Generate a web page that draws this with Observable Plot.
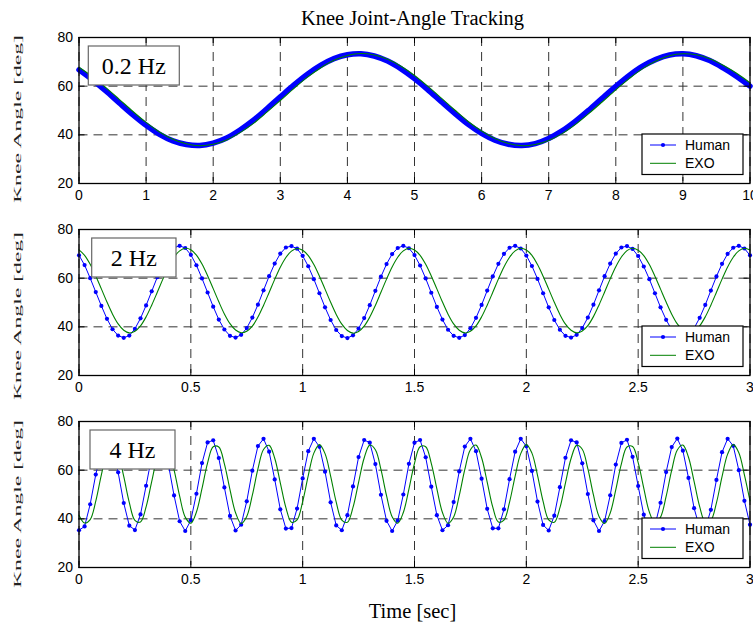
<!DOCTYPE html>
<html><head><meta charset="utf-8">
<script src="https://cdn.jsdelivr.net/npm/d3@7"></script>
<script src="https://cdn.jsdelivr.net/npm/@observablehq/plot@0.6"></script>
<style>
body{margin:0;background:#fff;}
#chart{position:relative;width:753px;height:627px;overflow:hidden;background:#fff;}
.panel{position:absolute;left:0;}
</style></head><body>
<div id="chart"></div>
<script>
// ---------- data ----------
const titleText = "Knee Joint-Angle Tracking";
const xLabelText = "Time [sec]";
const yLabelText = "Knee Angle [deg]";
const seriesNames = ["Human", "EXO"];
const panelLabels = ["0.2 Hz", "2 Hz", "4 Hz"];
const yTicks = [20, 40, 60, 80];
const xTicksA = [0,1,2,3,4,5,6,7,8,9,10];
const xTicksBC = [0,0.5,1,1.5,2,2.5,3];

// panel A: 0.2 Hz, sampled every 0.2 s, 0..10 s
const stepA = 0.2;
const humanA = [66.7,62.6,58.0,53.1,48.3,43.9,40.2,37.5,36.0,35.6,36.6,38.7,42.0,46.0,50.7,55.6,60.4,64.8,68.5,71.3,72.9,73.3,72.4,70.3,67.1,63.1,58.5,53.6,48.8,44.3,40.6,37.8,36.1,35.6,36.4,38.5,41.6,45.6,50.2,55.1,59.9,64.4,68.2,71.0,72.8,73.3,72.5,70.5,67.5,64.0,60.0];
const exoA = [67.8,63.9,59.4,54.6,49.7,45.1,41.2,38.2,36.3,35.5,36.1,37.9,40.9,44.7,49.3,54.1,59.0,63.6,67.5,70.6,72.6,73.4,72.8,71.1,68.2,64.4,59.9,55.1,50.2,45.5,41.6,38.5,36.4,35.5,36.0,37.7,40.5,44.3,48.8,53.6,58.5,63.1,67.2,70.3,72.5,73.3,72.9,71.3,68.6,65.3,61.4];

// panel B: 2 Hz, sampled every 0.025 s, 0..3 s
const stepB = 0.025;
const humanB = [69.4,65.4,60.0,54.3,48.6,43.3,39.0,36.4,35.5,36.4,39.2,43.5,48.8,54.6,60.4,65.7,69.9,72.5,73.3,72.4,
69.6,65.3,59.9,54.1,48.3,43.0,38.9,36.3,35.6,36.7,39.5,43.8,49.1,55.0,60.8,66.0,70.1,72.6,73.2,72.1,
69.2,64.9,59.6,53.8,48.0,42.8,38.7,36.2,35.4,36.5,39.3,43.6,48.9,54.8,60.6,65.8,69.9,72.4,73.3,72.3,
69.5,65.2,59.9,54.0,48.2,43.0,38.8,36.3,35.5,36.6,39.4,43.7,49.0,54.9,60.7,65.9,70.0,72.5,73.3,72.2,
69.3,65.0,59.7,53.8,48.0,42.8,38.8,36.3,35.6,36.7,39.5,43.8,49.1,55.0,60.8,66.0,70.1,72.6,73.2,72.0,
69.1,64.8,59.6,53.8,48.0,42.9,38.8,36.3,35.5,36.6,39.4,43.7,49.0,54.9,60.7,65.9,70.0,72.5,73.3,72.2,
69.4];
const exoB = [71.6,69.4,65.7,60.9,55.6,50.2,45.2,41.2,38.6,37.5,38.2,40.4,44.1,48.9,54.2,59.6,64.6,68.6,71.2,72.3,
71.7,69.5,65.8,61.0,55.7,50.3,45.3,41.3,38.7,37.6,38.2,40.3,44.0,48.8,54.1,59.5,64.5,68.5,71.1,72.2,
71.5,69.3,65.6,60.8,55.5,50.1,45.1,41.1,38.5,37.4,38.1,40.3,44.0,48.8,54.2,59.6,64.6,68.6,71.2,72.3,
71.6,69.4,65.7,60.9,55.6,50.2,45.2,41.2,38.6,37.5,38.2,40.4,44.1,48.9,54.2,59.6,64.6,68.6,71.2,72.3,
71.6,69.4,65.6,60.8,55.5,50.1,45.1,41.1,38.6,37.5,38.3,40.5,44.2,49.0,54.3,59.7,64.7,68.7,71.3,72.3,
71.5,69.3,65.6,60.8,55.5,50.2,45.2,41.2,38.6,37.5,38.2,40.4,44.1,48.9,54.2,59.6,64.6,68.6,71.2,72.3,
71.6];

// panel C: 4 Hz, sampled every 0.025 s, 0..3 s
const stepC = 0.025;
const humanC = [35.3,36.9,46.0,58.2,68.1,73.0,69.5,59.1,46.5,37.2,
35.4,41.8,53.6,65.6,72.5,71.1,62.2,49.6,39.0,35.0,
39.4,50.3,62.9,71.4,72.3,65.0,52.9,41.2,35.2,37.6,
47.2,59.8,69.9,72.9,67.6,56.2,43.9,36.0,36.2,44.2,
56.6,67.8,72.9,69.6,59.4,46.8,37.3,35.3,41.5,53.3,
65.4,72.4,71.3,62.5,49.9,39.2,35.0,39.3,50.0,62.6,
71.3,72.4,65.3,53.2,41.5,35.3,37.4,46.9,59.5,69.7,
72.9,67.8,56.5,44.1,36.1,36.1,43.9,56.3,67.6,72.9,
69.8,59.7,47.1,37.5,35.2,41.3,53.0,65.1,72.3,71.4,
62.8,50.2,39.4,35.0,39.1,49.7,62.3,71.2,72.5,65.5,
53.5,41.7,35.3,37.3,46.6,59.2,69.5,73.0,68.0,56.8,
44.4,36.2,36.0,43.7,56.0,67.4,72.9,70.0,60.0,47.4,37.6];
const exoC = [41.5,38.3,39.7,47.3,58.1,67.1,70.5,66.7,57.4,46.7,
39.4,38.7,44.9,55.3,65.2,70.3,68.3,60.1,49.3,40.7,
38.2,42.8,52.5,63.0,69.6,69.5,62.6,52.0,42.5,38.1,
41.0,49.7,60.5,68.5,70.2,64.9,54.8,44.6,38.6,39.6,
47.1,57.8,67.0,70.5,66.8,57.6,46.9,39.5,38.6,44.7,
55.0,65.0,70.3,68.4,60.3,49.5,40.9,38.2,42.6,52.2,
62.8,69.6,69.6,62.8,52.3,42.6,38.2,40.8,49.5,60.3,
68.4,70.3,65.1,55.1,44.8,38.7,39.5,46.9,57.6,66.8,
70.5,67.0,57.9,47.2,39.6,38.6,44.5,54.8,64.8,70.2,
68.6,60.6,49.8,41.0,38.1,42.4,52.0,62.6,69.5,69.7,
63.1,52.6,42.8,38.2,40.7,49.2,60.0,68.3,70.3,65.3,
55.4,45.0,38.7,39.4,46.6,57.3,66.6,70.5,67.2,58.1,47.4];

// ---------- drawing ----------
const BLUE = "#0000ff", GREEN = "#008000";
const SANS = "'Liberation Sans', Arial, Helvetica, sans-serif";
const SERIF = "'Liberation Serif', 'Times New Roman', serif";
const W = 753, MT = 10, PH = 146, MB = 34, ML = 78.5, MR = 3.5;
const PW = W - ML - MR;
const chart = document.getElementById("chart");

function toRows(values, step) { return values.map((v, i) => ({t: i * step, v})); }

function makePanel(cfg) {
  const h = toRows(cfg.human, cfg.step);
  const e = toRows(cfg.exo, cfg.step);
  const humanMarks = cfg.dense
    ? [Plot.line(h, {x: "t", y: "v", stroke: BLUE, strokeWidth: 5.5, curve: "catmull-rom"})]
    : [Plot.line(h, {x: "t", y: "v", stroke: BLUE, strokeWidth: 1}),
       Plot.dot(h, {x: "t", y: "v", r: 2.1, fill: BLUE, stroke: "none"})];
  const plot = Plot.plot({
    width: W, height: MT + PH + MB,
    marginLeft: ML, marginRight: MR, marginTop: MT, marginBottom: MB,
    style: {fontFamily: SANS, fontSize: "14px", color: "#000", background: "transparent"},
    x: {domain: [cfg.xTicks[0], cfg.xTicks[cfg.xTicks.length - 1]]},
    y: {domain: [20, 80]},
    marks: [
      Plot.gridX(cfg.xTicks, {stroke: "#333", strokeOpacity: 1, strokeDasharray: "9,6"}),
      Plot.gridY(yTicks, {stroke: "#333", strokeOpacity: 1, strokeDasharray: "9,6"}),
      ...humanMarks,
      Plot.line(e, {x: "t", y: "v", stroke: GREEN, strokeWidth: 1.1, curve: "catmull-rom"}),
      Plot.tickX(cfg.xTicks, {x: d => d, stroke: "#000", insetTop: PH - 6}),
      Plot.tickX(cfg.xTicks, {x: d => d, stroke: "#000", insetBottom: PH - 6}),
      Plot.tickY(yTicks, {y: d => d, stroke: "#000", insetRight: PW - 6}),
      Plot.tickY(yTicks, {y: d => d, stroke: "#000", insetLeft: PW - 6}),
      Plot.frame({stroke: "#000", strokeWidth: 1.3}),
      Plot.axisX({ticks: cfg.xTicks, tickSize: 0, tickPadding: 7, tickFormat: d => String(d), label: null}),
      Plot.axisY({ticks: yTicks, tickSize: 0, tickPadding: 6, label: null})
    ]
  });
  const svg = d3.select(plot);
  // y label
  svg.append("text")
    .attr("transform", `translate(17.5,${cfg.yLabelY}) rotate(-90) scale(1,0.6)`)
    .attr("text-anchor", "middle").attr("dy", "0.35em")
    .attr("textLength", 168).attr("lengthAdjust", "spacingAndGlyphs")
    .style("font-family", SERIF).style("font-size", "19px").style("font-weight", "normal").attr("fill", "#222")
    .text(yLabelText);
  // frequency label box
  const g = svg.append("g");
  g.append("rect").attr("x", cfg.boxX).attr("y", MT + 9).attr("width", cfg.boxW).attr("height", 39)
    .attr("fill", "#fff").attr("stroke", "#666").attr("stroke-width", 1.2);
  g.append("text").attr("x", cfg.boxX + cfg.boxW / 2).attr("y", MT + 9 + 19.5).attr("dy", "0.35em")
    .attr("text-anchor", "middle").style("font-family", SERIF).style("font-size", "24px").attr("fill", "#000")
    .text(cfg.label);
  // legend
  const lg = svg.append("g");
  const ly = MT + PH - 49;
  lg.append("rect").attr("x", 642).attr("y", ly).attr("width", 101).attr("height", 40.5)
    .attr("fill", "#fff").attr("stroke", "#000").attr("stroke-width", 1.2);
  const rows = [{name: seriesNames[0], c: BLUE, y: ly + 11, dot: true}, {name: seriesNames[1], c: GREEN, y: ly + 29.3, dot: false}];
  rows.forEach(r => {
    lg.append("line").attr("x1", 650).attr("x2", 676).attr("y1", r.y).attr("y2", r.y).attr("stroke", r.c).attr("stroke-width", 1);
    if (r.dot) lg.append("circle").attr("cx", 663).attr("cy", r.y).attr("r", 2.1).attr("fill", r.c);
    lg.append("text").attr("x", 685).attr("y", r.y).attr("dy", "0.35em").attr("text-anchor", "start")
      .style("text-anchor", "start")
      .style("font-family", SANS).style("font-size", "14px").attr("fill", "#000").text(r.name);
  });
  const div = document.createElement("div");
  div.className = "panel";
  div.style.top = cfg.top + "px";
  div.appendChild(plot);
  chart.appendChild(div);
}

makePanel({human: humanA, exo: exoA, step: stepA, xTicks: xTicksA, dense: true, label: panelLabels[0], top: 27, yLabelY: 92, boxX: 88.3, boxW: 91});
makePanel({human: humanB, exo: exoB, step: stepB, xTicks: xTicksBC, dense: false, label: panelLabels[1], top: 218.6, yLabelY: 97, boxX: 91.7, boxW: 84.3});
makePanel({human: humanC, exo: exoC, step: stepC, xTicks: xTicksBC, dense: false, label: panelLabels[2], top: 411, yLabelY: 93, boxX: 90, boxW: 85});

// title and x label
const over = d3.select(chart).append("svg").attr("width", W).attr("height", 627)
  .style("position", "absolute").style("left", 0).style("top", 0).style("pointer-events", "none");
over.append("text").attr("x", 412.5).attr("y", 25).attr("text-anchor", "middle")
  .style("font-family", SERIF).style("font-size", "20.5px").attr("fill", "#000").text(titleText);
over.append("text").attr("x", 412.5).attr("y", 618).attr("text-anchor", "middle")
  .style("font-family", SERIF).style("font-size", "20.5px").attr("fill", "#000").text(xLabelText);
</script></body></html>
